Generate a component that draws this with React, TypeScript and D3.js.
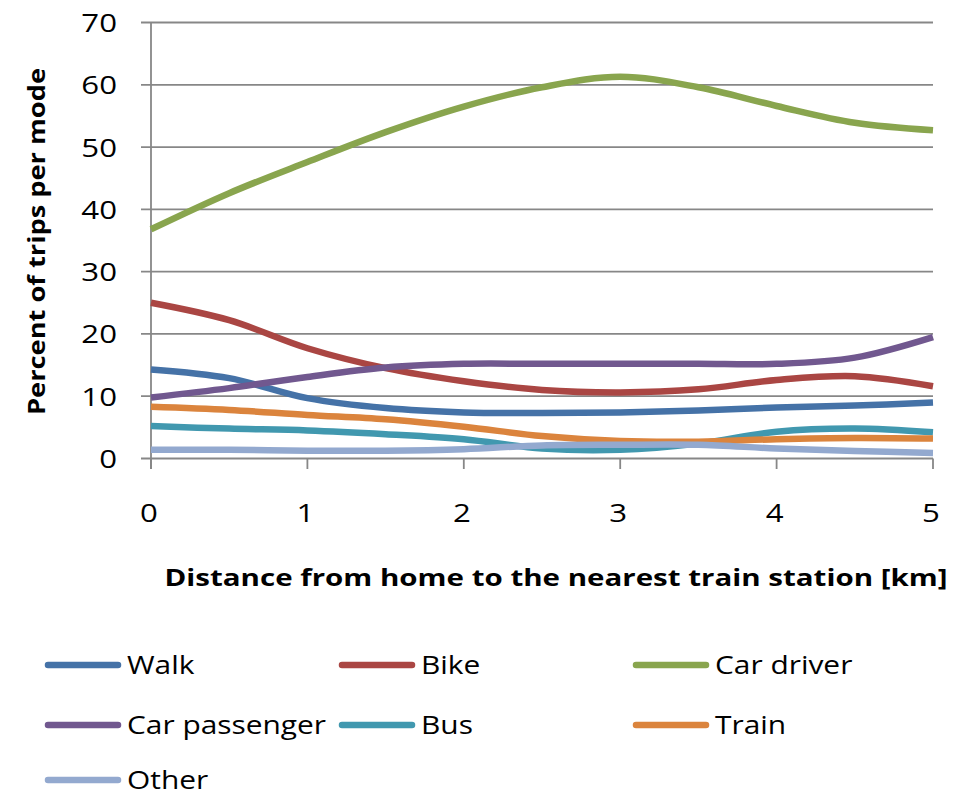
import React from "react";
import * as d3 from "d3";

const distances = [0, 0.5, 1, 1.5, 2, 2.5, 3, 3.5, 4, 4.5, 5];
const walk = [14.3, 12.9, 9.7, 8.1, 7.4, 7.3, 7.4, 7.7, 8.2, 8.5, 9.0];
const bike = [25.0, 22.2, 17.7, 14.5, 12.4, 11.0, 10.6, 11.1, 12.6, 13.2, 11.6];
const carDriver = [36.8, 42.6, 47.6, 52.4, 56.5, 59.6, 61.3, 59.6, 56.6, 53.9, 52.7];
const carPassenger = [9.8, 11.3, 13.1, 14.6, 15.2, 15.2, 15.2, 15.2, 15.2, 16.2, 19.5];
const bus = [5.2, 4.8, 4.5, 3.9, 3.1, 1.6, 1.4, 2.4, 4.3, 4.8, 4.2];
const train = [8.3, 7.8, 7.0, 6.3, 5.1, 3.6, 2.8, 2.7, 3.1, 3.3, 3.2];
const other = [1.4, 1.4, 1.25, 1.25, 1.5, 2.1, 2.2, 2.2, 1.6, 1.2, 0.9];

const seriesNames = ["Walk", "Bike", "Car driver", "Car passenger", "Bus", "Train", "Other"];
const seriesValues = [walk, bike, carDriver, carPassenger, bus, train, other];
const seriesColors = ["#4572A7", "#AA4643", "#89A54E", "#71588F", "#4198AF", "#DB843D", "#93A9CF"];
const yTicks = [0, 10, 20, 30, 40, 50, 60, 70];
const xTicks = [0, 1, 2, 3, 4, 5];

export default function App() {
  const x = d3.scaleLinear().domain([0, 5]).range([151, 933]);
  const y = d3.scaleLinear().domain([0, 70]).range([458.5, 22.5]);
  const line = d3
    .line<number>()
    .x((_, i) => x(distances[i]))
    .y((v) => y(v))
    .curve(d3.curveCatmullRom.alpha(0.5));

  const font = "'Open Sans', sans-serif";
  const legendCols = [45, 339, 633];
  const legendRows = [665, 725, 780];

  return (
    <svg
      width={961}
      height={797}
      style={{ position: "absolute", left: 0, top: 0, background: "#fff" }}
    >
      {yTicks.map((t) => (
        <line key={"g" + t} x1={141} x2={933} y1={y(t)} y2={y(t)} stroke="#878787" strokeWidth={1.8} />
      ))}
      <line x1={151} x2={151} y1={y(70)} y2={469} stroke="#878787" strokeWidth={1.8} />
      {xTicks.map((t) => (
        <line key={"xt" + t} x1={x(t)} x2={x(t)} y1={y(0)} y2={469} stroke="#878787" strokeWidth={1.8} />
      ))}
      {yTicks.map((t) => (
        <g key={"yl" + t} transform={`translate(117,${y(t) + 9.5}) scale(1.2,1)`}>
          <text x={0} y={0} textAnchor="end" fontFamily={font} fontSize={26} fill="#000">
            {t}
          </text>
        </g>
      ))}
      {xTicks.map((t) => (
        <g key={"xl" + t} transform={`translate(${x(t) - 2},522) scale(1.2,1)`}>
          <text x={0} y={0} textAnchor="middle" fontFamily={font} fontSize={26} fill="#000">
            {t}
          </text>
        </g>
      ))}
      {seriesValues.map((vals, i) => (
        <path
          key={seriesNames[i]}
          d={line(vals) || ""}
          fill="none"
          stroke={seriesColors[i]}
          strokeWidth={6.5}
          strokeLinecap="butt"
          strokeLinejoin="round"
        />
      ))}
      <text
        x={556}
        y={586}
        textAnchor="middle"
        fontFamily={font}
        fontWeight="bold"
        fontSize={23}
        textLength={783}
        lengthAdjust="spacingAndGlyphs"
      >
        Distance from home to the nearest train station [km]
      </text>
      <text
        transform="translate(45,241.5) rotate(-90)"
        textAnchor="middle"
        fontFamily={font}
        fontWeight="bold"
        fontSize={23}
        textLength={347}
        lengthAdjust="spacingAndGlyphs"
      >
        Percent of trips per mode
      </text>
      {seriesNames.map((name, i) => {
        const col = i % 3;
        const row = Math.floor(i / 3);
        const lx = legendCols[col];
        const ly = legendRows[row];
        return (
          <g key={"lg" + name}>
            <line x1={lx + 3} x2={lx + 73} y1={ly} y2={ly} stroke={seriesColors[i]} strokeWidth={6.5} strokeLinecap="round" />
            <g transform={`translate(${lx + 82},${ly + 9}) scale(1.15,1)`}>
              <text x={0} y={0} fontFamily={font} fontSize={26} fill="#000">
                {name}
              </text>
            </g>
          </g>
        );
      })}
    </svg>
  );
}
